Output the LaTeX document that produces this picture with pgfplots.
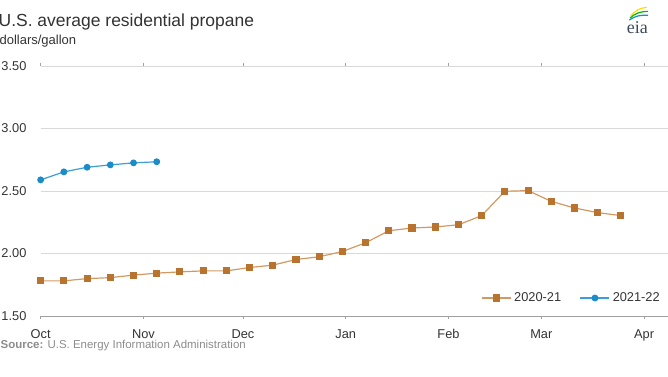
\documentclass[border=0pt]{standalone}
\usepackage{fontspec}
\setmainfont{Liberation Sans}
\newfontfamily\eiafont{Liberation Serif}
\usepackage{pgfplots}
\pgfplotsset{compat=1.18}
\definecolor{c20}{HTML}{B8732F}
\definecolor{c20line}{HTML}{D29A62}
\definecolor{c21}{HTML}{1B8CC8}
\definecolor{c21line}{HTML}{3A9FD6}
\definecolor{gridc}{HTML}{D9D9D9}
\definecolor{axc}{HTML}{A0A0A0}
\definecolor{txt}{HTML}{333333}
\definecolor{src}{HTML}{8C8C8C}
\definecolor{eiac}{HTML}{3B4A5C}
\pgfplotstableread{
day val
0 1.781
7 1.781
14 1.799
21 1.807
28 1.827
35 1.843
42 1.853
49 1.861
56 1.861
63 1.888
70 1.907
77 1.952
84 1.974
91 2.016
98 2.086
105 2.182
112 2.204
119 2.212
126 2.230
133 2.303
140 2.498
147 2.503
154 2.417
161 2.364
168 2.327
175 2.303
}\seasonA
\pgfplotstableread{
day val
0 2.589
7 2.653
14 2.690
21 2.709
28 2.725
35 2.734
}\seasonB
\begin{document}
\begin{tikzpicture}
\useasboundingbox (0,0) rectangle (501pt,282pt);
\begin{axis}[
  at={(30.5pt,45pt)}, anchor=south west,
  scale only axis, width=470.5pt, height=187.5pt,
  xmin=0, xmax=189.2, ymin=1.5, ymax=3.5,
  clip=false,
  axis line style={draw=none},
  /pgf/number format/assume math mode=true,
  xtick={0,31,61,92,123,151,182},
  xticklabels={Oct,Nov,Dec,Jan,Feb,Mar,Apr},
  ytick={1.5,2,2.5,3,3.5},
  yticklabel style={/pgf/number format/fixed, /pgf/number format/fixed zerofill, /pgf/number format/precision=2, inner sep=0pt, anchor=east, xshift=-8pt},
  xticklabel style={inner sep=0pt, anchor=north, text height=7pt, text depth=0pt, yshift=-7pt},
  ymajorgrids, major grid style={gridc, line width=0.6pt},
  tick align=outside, major tick length=2.5pt,
  xtick style={axc, line width=0.6pt},
  ytick style={draw=none},
  tick label style={font=\fontsize{9.6}{11}\selectfont, text=txt},
  legend style={draw=none, fill=none, at={(axis description cs:1,0)}, anchor=east, xshift=-4pt, yshift=13.5pt, inner sep=0pt, font=\fontsize{9.6}{11}\selectfont, text=txt, /tikz/every even column/.append style={column sep=12pt}},
  legend columns=2,
  legend image code/.code={\draw[mark repeat=2, mark phase=2, #1] plot coordinates {(0pt,0pt) (10.9pt,0pt) (21.8pt,0pt)};},
]
\addplot[c20line, line width=0.9pt, mark=square*, mark size=2.2pt, mark options={solid, fill=c20, draw=c20}] table[x=day, y=val] {\seasonA};
\addlegendentry{2020-21}
\addplot[c21line, line width=0.9pt, mark=*, mark size=2.1pt, mark options={solid, fill=c21, draw=c21}] table[x=day, y=val] {\seasonB};
\addlegendentry{2021-22}
\draw[axc, line width=0.6pt] (rel axis cs:0,0) -- (rel axis cs:1,0);
\end{axis}
\node[anchor=base west, inner sep=0pt, text=txt, font=\fontsize{13.1}{15}\selectfont] at (-1.2pt,262pt) {U.S. average residential propane};
\node[anchor=base west, inner sep=0pt, text=txt, font=\fontsize{9.75}{11}\selectfont] at (-0.5pt,248.25pt) {dollars/gallon};
\node[anchor=base west, inner sep=0pt, text=src, font=\fontsize{8.6}{10}\selectfont] at (0.3pt,20.8pt) {\textbf{Source:} U.S. Energy Information Administration};
\node[anchor=base west, inner sep=0pt, text=eiac, font=\fontsize{13.5}{15}\selectfont\eiafont] at (470pt,257.25pt) {eia};
\draw[color=c21, line width=0.9pt] (472pt,267pt) .. controls (476pt,270pt) and (481pt,271pt) .. (486pt,270.5pt);
\draw[color=green!60!black!70!green, line width=0.9pt] (472.5pt,268.5pt) .. controls (476pt,272pt) and (481pt,273.5pt) .. (486pt,273.5pt);
\draw[color=yellow!80!orange, line width=0.9pt] (473pt,270pt) .. controls (476pt,274pt) and (480pt,276pt) .. (485pt,276.5pt);
\end{tikzpicture}
\end{document}
